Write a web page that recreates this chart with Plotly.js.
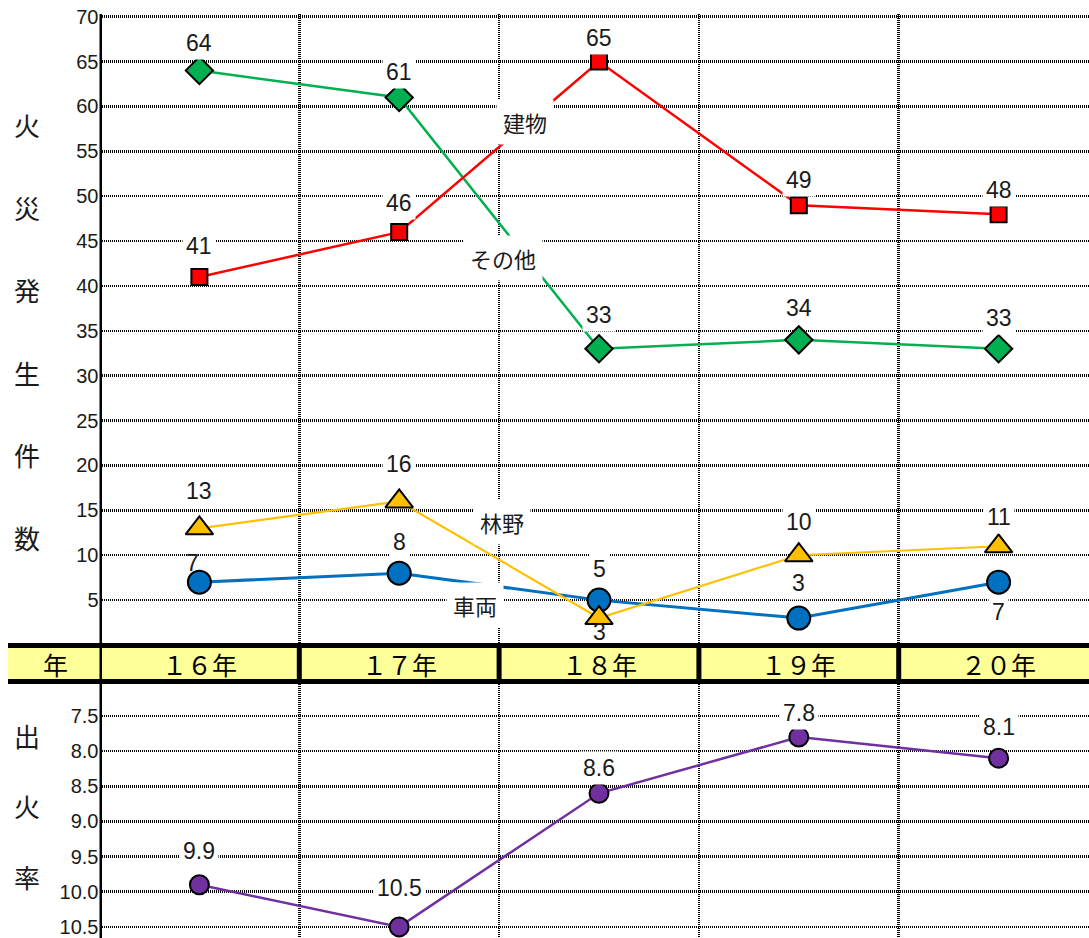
<!DOCTYPE html>
<html><head><meta charset="utf-8">
<script src="https://cdn.plot.ly/plotly-3.0.1.min.js"></script>
<style>html,body{margin:0;padding:0;overflow:hidden;background:#fff}</style>
</head><body><div id="chart" style="width:1089px;height:938px"></div>
<script>
// ---- data ----
const years = ['１６年', '１７年', '１８年', '１９年', '２０年'];
const building = [41, 46, 65, 49, 48];   // 建物
const other = [64, 61, 33, 34, 33];      // その他
const forest = [13, 16, 3, 10, 11];      // 林野
const vehicle = [7, 8, 5, 3, 7];         // 車両
const fireRate = [9.9, 10.5, 8.6, 7.8, 8.1]; // 出火率
const countTicks = [5, 10, 15, 20, 25, 30, 35, 40, 45, 50, 55, 60, 65, 70];
const rateTicks = [7.5, 8.0, 8.5, 9.0, 9.5, 10.0, 10.5];
const countTitle = ['火', '災', '発', '生', '件', '数'];
const rateTitle = ['出', '火', '率'];
const bandHeader = '年';
const names = {building: '建物', other: 'その他', forest: '林野', vehicle: '車両'};

// ---- layout helpers ----
const W = 1089, H = 938;
const px = x => x / W;
const py = y => 1 - y / H;
const numFont = 'Liberation Sans, Arial, sans-serif';
const jpFont = 'Noto Sans CJK JP, sans-serif';
const dotted = '1px,1px';

const traces = [];
function series(vals, color, lw, symbol, msize, xa, ya) {
  traces.push({
    x: years, y: vals, xaxis: xa, yaxis: ya, type: 'scatter', mode: 'lines+markers',
    line: {color: color, width: lw},
    marker: {symbol: symbol, size: msize, color: color, line: {color: '#000', width: 2}},
    cliponaxis: false, hoverinfo: 'skip'
  });
}
series(vehicle, '#0070C0', 3, 'circle', 23, 'x', 'y');
series(forest, '#FFC000', 2.2, 'triangle-up', 24, 'x', 'y');
series(other, '#00B050', 2.5, 'diamond', 21, 'x', 'y');
series(building, '#FF0000', 2.5, 'square', 16, 'x', 'y');
series(fireRate, '#7030A0', 2.5, 'circle', 19, 'x2', 'y2');

const annotations = [];
function labels(vals, shifts, xa, ya, fmt, opts) {
  vals.forEach((v, i) => {
    const o = (opts && opts[i]) || {};
    annotations.push({
      x: years[i], y: v, xref: xa, yref: ya, text: fmt(v), showarrow: false,
      xanchor: 'center', yanchor: 'middle',
      yshift: shifts[i], xshift: o.dx || 0,
      font: {family: numFont, size: 23, color: '#1a1a1a'},
      bgcolor: o.nobg ? 'rgba(0,0,0,0)' : '#ffffff', borderpad: 3
    });
  });
}
const int = v => String(v);
labels(building, [31, 29, 24, 25, 24], 'x', 'y', int);
labels(other, [28, 25, 34, 32, 31], 'x', 'y', int);
labels(forest, [37, 37, -14, 33, 29], 'x', 'y', int, [null, null, {nobg: true}, null, null]);
labels(vehicle, [19, 31, 31, 35, -30], 'x', 'y', int, [{dx: -7, nobg: true}, null, null, null, null]);
labels(fireRate, [34, 39, 25, 24, 31], 'x2', 'y2', v => v.toFixed(1));

// series name labels
[[names.building, 525, 122], [names.other, 503, 258], [names.forest, 502, 522], [names.vehicle, 475, 605]]
  .forEach(([t, x, y]) => annotations.push({
    x: px(x), y: py(y), xref: 'paper', yref: 'paper', text: t, showarrow: false,
    xanchor: 'center', yanchor: 'middle',
    font: {family: jpFont, size: 22, color: '#1a1a1a'}, bgcolor: '#ffffff', borderpad: 6
  }));

// vertical axis titles (one character per line)
countTitle.forEach((c, i) => annotations.push({
  x: px(27), y: py(125 + i * 82.4), xref: 'paper', yref: 'paper', text: c, showarrow: false,
  xanchor: 'center', yanchor: 'middle',
  font: {family: jpFont, size: 26, color: '#1a1a1a'}
}));
rateTitle.forEach((c, i) => annotations.push({
  x: px(27), y: py(735 + i * 70.5), xref: 'paper', yref: 'paper', text: c, showarrow: false,
  xanchor: 'center', yanchor: 'middle',
  font: {family: jpFont, size: 26, color: '#1a1a1a'}
}));

// band labels
annotations.push({x: px(55), y: py(663.5), xref: 'paper', yref: 'paper', text: bandHeader,
  xanchor: 'center', yanchor: 'middle',
  showarrow: false, font: {family: jpFont, size: 25, color: '#000'}});
years.forEach(yr => annotations.push({x: yr, y: py(663.5), xref: 'x', yref: 'paper', text: yr,
  xanchor: 'center', yanchor: 'middle',
  showarrow: false, font: {family: jpFont, size: 25, color: '#000'}}));

// band shapes
const shapes = [
  {type: 'rect', xref: 'paper', yref: 'paper', x0: px(8), x1: 1, y0: py(684), y1: py(643),
   fillcolor: '#000', line: {width: 0}, layer: 'above'},
  {type: 'rect', xref: 'paper', yref: 'paper', x0: px(8), x1: 1, y0: py(679), y1: py(648),
   fillcolor: '#FFFF99', line: {width: 0}, layer: 'above'},
  {type: 'line', xref: 'x', yref: 'paper', x0: -0.5, x1: -0.5, y0: py(938), y1: py(14),
   line: {color: '#000', width: 5}, layer: 'above'}
];
for (let i = 1; i < years.length; i++) {
  shapes.push({type: 'line', xref: 'x', yref: 'paper', x0: i - 0.5, x1: i - 0.5, y0: py(684), y1: py(643),
    line: {color: '#000', width: 5}, layer: 'above'});
}

const xBase = {
  type: 'category', domain: [px(99.5), 1], range: [-0.5, -0.5 + 989.5 / 199.8],
  tickson: 'boundaries', showgrid: true, gridcolor: '#000', gridwidth: 2.5, griddash: dotted,
  showticklabels: false, ticks: '', zeroline: false, showline: false, fixedrange: true
};
const yBase = {
  showgrid: true, gridcolor: '#000', gridwidth: 2.5, griddash: dotted, zeroline: false,
  showline: false, ticks: '', tickfont: {family: numFont, size: 20, color: '#1a1a1a'}, fixedrange: true
};

const layout = {
  width: W, height: H, margin: {l: 0, r: 0, t: 0, b: 0}, showlegend: false,
  paper_bgcolor: '#fff', plot_bgcolor: 'rgba(0,0,0,0)', hovermode: false,
  xaxis: Object.assign({}, xBase, {anchor: 'y'}),
  xaxis2: Object.assign({}, xBase, {anchor: 'y2', matches: 'x'}),
  yaxis: Object.assign({}, yBase, {anchor: 'x', domain: [py(645), py(14)], range: [0, 70.3],
    tickvals: countTicks}),
  yaxis2: Object.assign({}, yBase, {anchor: 'x2', domain: [0, py(684)], range: [10.658, 7.045],
    tickvals: rateTicks, ticktext: rateTicks.map(v => v.toFixed(1))}),
  annotations: annotations, shapes: shapes
};

Plotly.newPlot('chart', traces, layout, {displayModeBar: false, staticPlot: true});
</script></body></html>
